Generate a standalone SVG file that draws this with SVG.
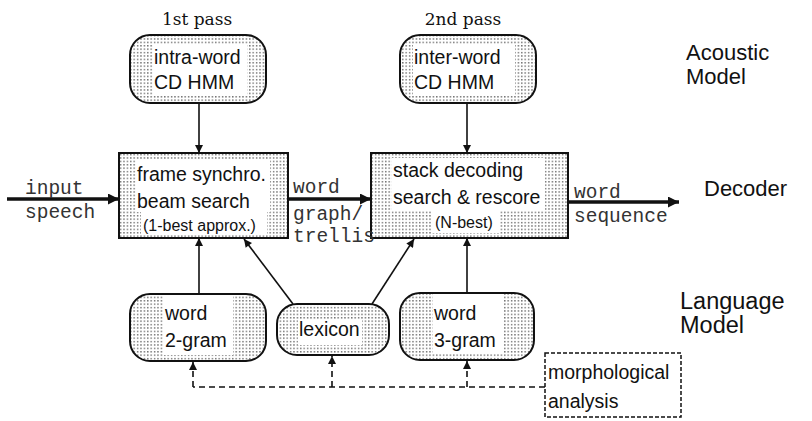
<svg xmlns="http://www.w3.org/2000/svg" width="812" height="421" viewBox="0 0 812 421">
<defs>
<pattern id="dots" width="3.4" height="3.4" patternUnits="userSpaceOnUse"><rect width="3.4" height="3.4" fill="#fff"/><rect x="1" y="1" width="1.2" height="1.2" fill="#333"/></pattern>
<marker id="ah" viewBox="0 0 10 10" refX="10" refY="5" markerUnits="userSpaceOnUse" markerWidth="11" markerHeight="8" orient="auto"><path d="M0,0 L10,5 L0,10 z" fill="#111"/></marker>
<marker id="ahb" viewBox="0 0 10 10" refX="10" refY="5" markerUnits="userSpaceOnUse" markerWidth="15" markerHeight="11" orient="auto"><path d="M0,0 L10,5 L0,10 z" fill="#111"/></marker>
</defs>
<style>
.box{fill:url(#dots);stroke:#111;stroke-width:2}
.wh{fill:#fff}
.t{font-family:"Liberation Sans",Arial,sans-serif;font-size:19.5px;fill:#111}
.ts{font-family:"Liberation Sans",Arial,sans-serif;font-size:16px;fill:#111}
.m{font-family:"Liberation Mono","Courier New",monospace;font-size:19.5px;fill:#333}
.s{font-family:"DejaVu Serif",serif;font-size:17px;fill:#111}
.r{font-family:"Liberation Sans",Arial,sans-serif;font-size:22px;fill:#111}
.rl{font-family:"Liberation Sans",Arial,sans-serif;font-size:23.5px;fill:#111}
.ln{stroke:#111;stroke-width:1.6;fill:none}
.th{stroke:#111;stroke-width:3.5;fill:none}
.da{stroke:#111;stroke-width:1.6;fill:none;stroke-dasharray:6 4}
</style>
<g id="labels">
<text class="s" x="197" y="25" text-anchor="middle">1st pass</text>
<text class="s" x="463" y="25" text-anchor="middle">2nd pass</text>
<text class="r" x="686" y="60">Acoustic</text>
<text class="r" x="686" y="84">Model</text>
<text class="r" x="704" y="196">Decoder</text>
<text class="rl" x="680" y="309">Language</text>
<text class="rl" x="680" y="333">Model</text>
</g>
<g id="intra-word">
<rect class="box" x="130" y="35" width="136" height="68" rx="20"/>
<rect class="wh" x="153" y="44" width="94" height="52"/>
<text class="t" x="154" y="64">intra-word</text>
<text class="t" x="154" y="89">CD HMM</text>
</g>
<g id="inter-word">
<rect class="box" x="400" y="35" width="136" height="68" rx="20"/>
<rect class="wh" x="413" y="44" width="102" height="52"/>
<text class="t" x="414" y="64">inter-word</text>
<text class="t" x="414" y="89">CD HMM</text>
</g>
<g id="frame">
<rect class="box" x="119" y="153" width="169" height="85"/>
<rect class="wh" x="136" y="160" width="134" height="52"/>
<rect class="wh" x="141" y="212" width="126" height="22"/>
<text class="t" x="137" y="181">frame synchro.</text>
<text class="t" x="137" y="208">beam search</text>
<text class="ts" x="143" y="231">(1-best approx.)</text>
</g>
<g id="stack">
<rect class="box" x="371" y="153" width="197" height="85"/>
<rect class="wh" x="392" y="158" width="153" height="52"/>
<rect class="wh" x="432" y="210" width="68" height="23"/>
<text class="t" x="393" y="177">stack decoding</text>
<text class="t" x="393" y="204">search &amp; rescore</text>
<text class="ts" x="435" y="228">(N-best)</text>
</g>
<g id="word-2gram">
<rect class="box" x="130" y="294" width="136" height="67" rx="20"/>
<rect class="wh" x="163" y="295" width="70" height="60"/>
<text class="t" x="165" y="320">word</text>
<text class="t" x="165" y="347">2-gram</text>
</g>
<g id="lexicon">
<rect class="box" x="277" y="304" width="112" height="51" rx="20"/>
<rect class="wh" x="298" y="319" width="64" height="26"/>
<text class="t" x="299" y="336">lexicon</text>
</g>
<g id="word-3gram">
<rect class="box" x="400" y="293" width="134" height="67" rx="20"/>
<rect class="wh" x="433" y="294" width="70" height="60"/>
<text class="t" x="434" y="320">word</text>
<text class="t" x="434" y="347">3-gram</text>
</g>
<g id="morph">
<rect x="545" y="353" width="136" height="64" fill="#fff" stroke="#111" stroke-width="1.5" stroke-dasharray="4 2"/>
<text class="t" x="548" y="379">morphological</text>
<text class="t" x="548" y="408">analysis</text>
</g>
<g id="connectors">
<line class="th" x1="7" y1="199" x2="119" y2="199" marker-end="url(#ahb)"/>
<line class="th" x1="288" y1="199" x2="371" y2="199" marker-end="url(#ahb)"/>
<line class="th" x1="568" y1="202" x2="679" y2="202" marker-end="url(#ahb)"/>
<line class="ln" x1="199" y1="103" x2="199" y2="153" marker-end="url(#ah)"/>
<line class="ln" x1="467" y1="103" x2="467" y2="153" marker-end="url(#ah)"/>
<line class="ln" x1="199" y1="294" x2="199" y2="238" marker-end="url(#ah)"/>
<line class="ln" x1="293" y1="304" x2="244" y2="239" marker-end="url(#ah)"/>
<line class="ln" x1="372" y1="304" x2="414" y2="239" marker-end="url(#ah)"/>
<line class="ln" x1="467" y1="293" x2="467" y2="238" marker-end="url(#ah)"/>
<path class="da" d="M545,387 L193,387"/>
<line class="da" x1="193" y1="387" x2="193" y2="362" marker-end="url(#ah)"/>
<line class="da" x1="332" y1="387" x2="332" y2="356" marker-end="url(#ah)"/>
<line class="da" x1="467" y1="387" x2="467" y2="361" marker-end="url(#ah)"/>
<text class="m" x="25" y="194">input</text>
<text class="m" x="25" y="218">speech</text>
<text class="m" x="293" y="193">word</text>
<text class="m" x="293" y="220">graph/</text>
<text class="m" x="293" y="242">trellis</text>
<text class="m" x="574" y="198">word</text>
<text class="m" x="574" y="222">sequence</text>
</g>
</svg>
